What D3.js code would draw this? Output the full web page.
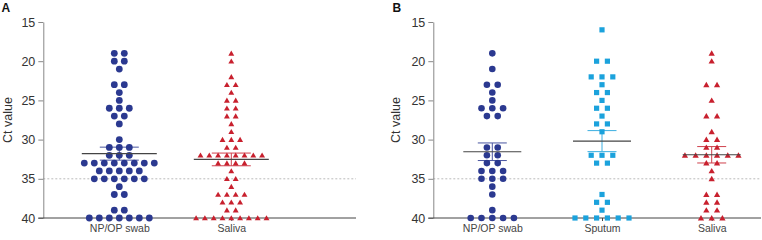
<!DOCTYPE html>
<html>
<head>
<meta charset="utf-8">
<script src="https://cdn.jsdelivr.net/npm/d3@7"></script>
<style>
  body { margin: 0; background: #fff; }
  svg { display: block; font-family: "Liberation Sans", Arial, sans-serif; }
</style>
</head>
<body>
<svg id="chart"></svg>
<script>
// ---------------------------------------------
// DATA (Ct value per sample)
// ---------------------------------------------
const ctTicks = [15, 20, 25, 30, 35, 40];
const cutoff = 35;

const catsA = ["NP/OP swab", "Saliva"];
const catsB = ["NP/OP swab", "Sputum", "Saliva"];

const aNpop = [19,19,20,20,21,23,23,24,25,26,26,26,27,27,28,30,31,31,31,32,32,32,
  33,33,33,33,33,33,33,33,34,34,34,34,34,35,35,35,35,35,35,36,37,37,39,39,
  40,40,40,40,40,40,40];
const aSaliva = [19,20,22,23,23,24,25,25,26,26,27,27,28,29,30,30,30,31,31,
  32,32,32,32,32,32,32,32,33,33,33,33,34,35,35,36,37,37,37,37,38,38,38,39,39,
  40,40,40,40,40,40,40,40,40];

const bNpop = [19,21,23,23,24,25,26,26,26,27,27,31,31,32,32,33,33,34,34,34,
  35,35,35,36,37,39,40,40,40,40,40];
const bSputum = [16,20,20,22,22,22,23,24,24,25,26,26,27,28,28,29,32,32,32,33,33,
  37,38,38,39,40,40,40,40,40,40];
const bSaliva = [19,20,23,23,25,27,27,29,30,30,31,31,32,32,32,32,32,32,33,33,
  34,35,37,37,38,38,39,39,40,40,40];

// ---------------------------------------------
// CONFIG
// ---------------------------------------------
const width = 762, height = 240;
const navy = "#2b3990", red = "#c8202e", sky = "#1ba2dc";

const svg = d3.select("#chart")
  .attr("width", width)
  .attr("height", height);

const y = d3.scaleLinear([15, 40], [22, 218]);

const panels = [
  {
    letter: "A", axisX: 43.3, endX: 356, labelX: 8, letterX: 1.5,
    cats: catsA, range: [119.3, 231.3], meanHalf: 37.5, semHalf: 19.5,
    series: [
      { values: aNpop, shape: "circle", color: navy, step: 10, size: 3.4 },
      { values: aSaliva, shape: "triangle", color: red, step: 8.8, size: 15 }
    ]
  },
  {
    letter: "B", axisX: 433.3, endX: 761, labelX: 396, letterX: 392.5,
    cats: catsB, range: [492.3, 711.7], meanHalf: 29, semHalf: 14.5,
    series: [
      { values: bNpop, shape: "circle", color: navy, step: 10.8, size: 3.3 },
      { values: bSputum, shape: "square", color: sky, step: 10.8, size: 27 },
      { values: bSaliva, shape: "triangle", color: red, step: 10.7, size: 17 }
    ]
  }
];

panels.forEach(p => {
  const g = svg.append("g");
  const x = d3.scalePoint(p.cats, p.range);

  // cut-off line
  g.append("line")
    .attr("x1", p.axisX).attr("x2", p.endX)
    .attr("y1", y(cutoff)).attr("y2", y(cutoff))
    .attr("stroke", "#aaa").attr("stroke-width", 0.8)
    .attr("stroke-dasharray", "2,2");

  // y axis
  const ya = g.append("g")
    .attr("transform", `translate(${p.axisX},0)`)
    .call(d3.axisLeft(y).tickValues(ctTicks).tickSize(5).tickSizeOuter(0).tickPadding(3));
  ya.select(".domain").attr("stroke", "#888");
  ya.selectAll(".tick line").attr("stroke", "#888");
  ya.selectAll(".tick text")
    .attr("fill", "#333").style("font-size", "12.5px")
    .style("font-family", "'Liberation Sans', Arial, sans-serif");

  // x axis
  const xa = g.append("g")
    .attr("transform", `translate(0,${y(40)})`)
    .call(d3.axisBottom(x).tickSize(3).tickSizeOuter(0).tickPadding(4));
  xa.select(".domain").remove();
  xa.selectAll(".tick line").attr("stroke", "#444");
  xa.selectAll(".tick text")
    .attr("fill", "#444").style("font-size", "10.5px")
    .style("font-family", "'Liberation Sans', Arial, sans-serif");
  g.append("line")
    .attr("x1", p.axisX - 5).attr("x2", p.endX)
    .attr("y1", y(40)).attr("y2", y(40))
    .attr("stroke", "#444").attr("stroke-width", 1);

  // axis title + panel letter
  g.append("text")
    .attr("transform", `translate(${p.labelX},${y(27.5)}) rotate(-90)`)
    .attr("text-anchor", "middle").attr("dy", "0.35em")
    .attr("fill", "#333").style("font-size", "12.5px")
    .text("Ct value");
  g.append("text")
    .attr("x", p.letterX).attr("y", 12)
    .attr("fill", "#111").style("font-size", "12px").style("font-weight", "bold")
    .text(p.letter);

  // points + mean/SEM
  p.series.forEach((s, i) => {
    const cx = x(p.cats[i]);
    const rows = d3.group(s.values, d => d);
    const pts = [];
    rows.forEach((list, v) => {
      list.forEach((_, j) => pts.push({ v, off: (j - (list.length - 1) / 2) * s.step }));
    });

    const mean = d3.mean(s.values);
    const sem = d3.deviation(s.values) / Math.sqrt(s.values.length);

    const marks = g.append("g");
    if (s.shape === "circle") {
      marks.selectAll("circle").data(pts).join("circle")
        .attr("cx", d => cx + d.off).attr("cy", d => y(d.v))
        .attr("r", s.size).attr("fill", s.color);
    } else {
      const sym = d3.symbol()
        .type(s.shape === "square" ? d3.symbolSquare : d3.symbolTriangle)
        .size(s.size);
      marks.selectAll("path").data(pts).join("path")
        .attr("transform", d => `translate(${cx + d.off},${y(d.v) + (s.shape === "triangle" ? 0.6 : 0)})`)
        .attr("d", sym).attr("fill", s.color);
    }

    // SEM bars
    const eg = g.append("g").attr("stroke", s.color).attr("stroke-width", 1).attr("opacity", 0.85);
    eg.append("line")
      .attr("x1", cx).attr("x2", cx)
      .attr("y1", y(mean - sem)).attr("y2", y(mean + sem));
    [mean - sem, mean + sem].forEach(v => {
      eg.append("line")
        .attr("x1", cx - p.semHalf).attr("x2", cx + p.semHalf)
        .attr("y1", y(v)).attr("y2", y(v));
    });
    // mean line
    g.append("line")
      .attr("x1", cx - p.meanHalf).attr("x2", cx + p.meanHalf)
      .attr("y1", y(mean)).attr("y2", y(mean))
      .attr("stroke", "#444").attr("stroke-width", 1.2);
  });
});
</script>
</body>
</html>
